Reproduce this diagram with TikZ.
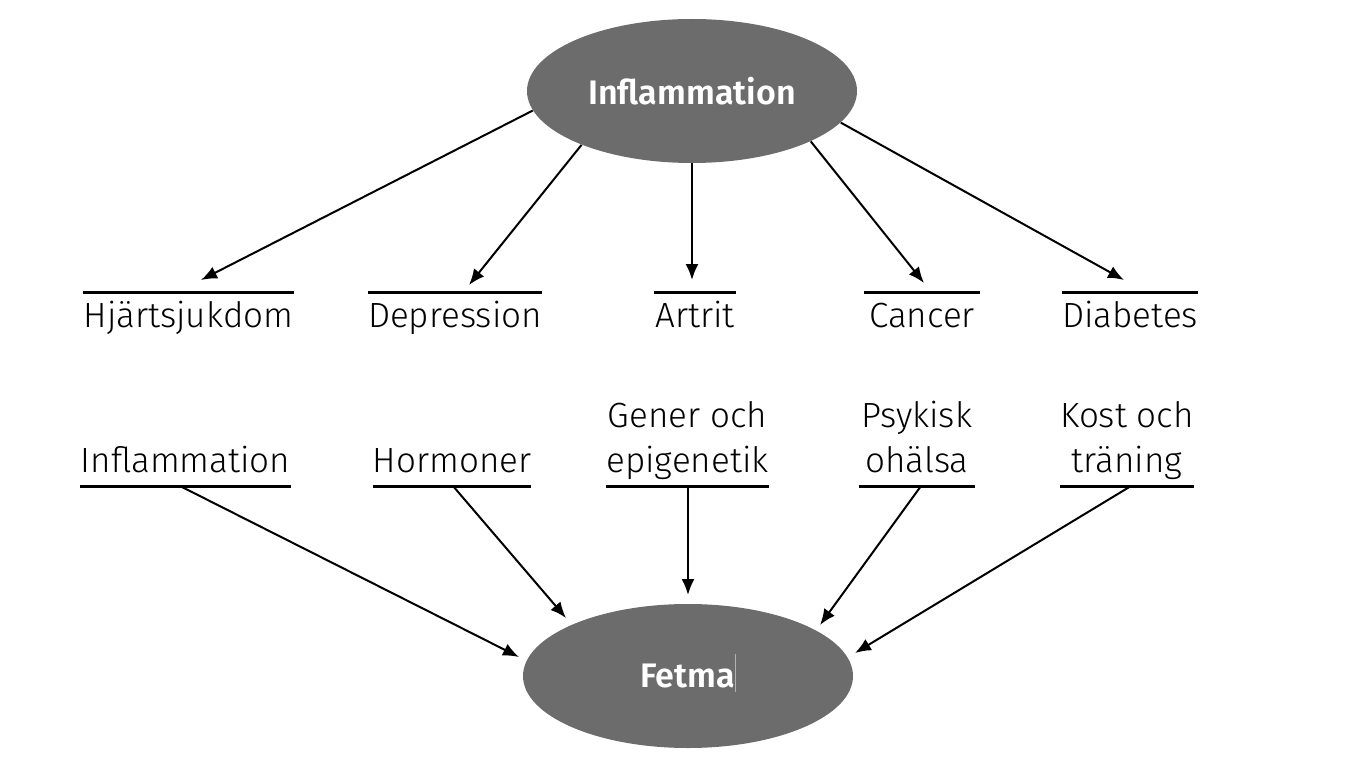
\documentclass[tikz,border=0pt]{standalone}
\usepackage{fontspec}
\setmainfont{Fira Sans}[UprightFont=* Light, BoldFont=* SemiBold]
\usetikzlibrary{shapes.geometric, arrows.meta, calc}
\definecolor{ovalgray}{RGB}{108,108,108}

\begin{document}
\begin{tikzpicture}[x=0.5pt, y=-0.5pt,
        oval/.style={ellipse, fill=ovalgray, text=white, minimum width=165pt, minimum height=72pt, inner sep=0pt, font=\fontsize{17}{20}\selectfont\bfseries},
        lbl/.style={inner xsep=0pt, outer sep=0pt, align=center, font=\fontsize{17.5}{22.5}\selectfont},
        over/.style={lbl, anchor=north, text height=12pt, inner ysep=5.5pt, append after command={(\tikzlastnode.north west) edge[line width=1.5pt] (\tikzlastnode.north east)}},
        under/.style={lbl, anchor=south, text depth=4pt, inner ysep=3pt, append after command={(\tikzlastnode.south west) edge[line width=1.5pt] (\tikzlastnode.south east)}},
        arr/.style={line width=1pt, ->, >={Latex[length=8pt, width=6.5pt]}}]
        \useasboundingbox (0,0) rectangle (1360,765);

        \node[oval] (inf) at (692,91) {Inflammation};
        \node[oval] (fet) at (688,676) {Fetma\smash{\textcolor{gray!60}{\rule[-2.5pt]{0.4pt}{19pt}}}};

        % sjukdomar
        \node[over, minimum width=105.5pt] (hjart) at (188.5,292) {Hjärtsjukdom};
        \node[over, minimum width=85pt] (depr) at (455,292) {Depression};
        \node[over, minimum width=41pt] (artr) at (695,292) {Artrit};
        \node[over, minimum width=58pt] (canc) at (922,292) {Cancer};
        \node[over, minimum width=64pt] (diab) at (1130,292) {Diabetes};

        % orsaker
        \node[under, minimum width=105.5pt] (infl) at (185.5,486) {Inflammation};
        \node[under, minimum width=78pt] (horm) at (452,486) {Hormoner};
        \node[under, minimum width=81.5pt] (gener) at (687.5,486) {Gener och\\epigenetik};
        \node[under, minimum width=58pt] (psyk) at (917,486) {Psykisk\\ohälsa};
        \node[under, minimum width=59pt] (kost) at (1127,486) {Kost och\\träning};

        \draw[arr] (inf.187.5) -- ($(hjart.north)+(12.5,-12)$);
        \draw[arr] (inf.206.4) -- ($(depr.north)+(14,-7)$);
        \draw[arr] (inf.270) -- ($(artr.north)+(-3,-12)$);
        \draw[arr] (inf.337) -- ($(canc.north)+(2,-9)$);
        \draw[arr] (inf.348.5) -- ($(diab.north)+(-6,-12)$);

        \draw[arr] ($(infl.south)+(-5.5,0)$) -- ($(fet.center)+(-169,-19)$);
        \draw[arr] ($(horm.south)+(1,0)$) -- ($(fet.center)+(-122,-58)$);
        \draw[arr] ($(gener.south)+(0.5,0)$) -- ($(fet.center)+(0,-81)$);
        \draw[arr] ($(psyk.south)+(4,0)$) -- ($(fet.center)+(132,-51)$);
        \draw[arr] ($(kost.south)+(4,0)$) -- ($(fet.center)+(167,-23)$);
    \end{tikzpicture}
\end{document}
